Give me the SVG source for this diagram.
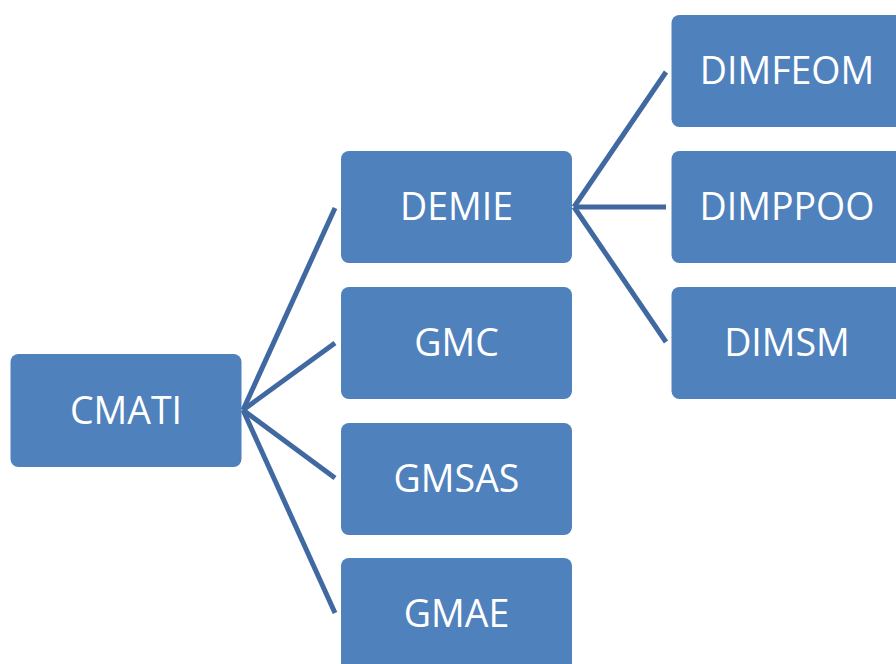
<svg xmlns="http://www.w3.org/2000/svg" width="896" height="664" viewBox="0 0 896 664">
<style>
.n{fill:#4F81BD;}
.t{fill:#FFFFFF;font-family:"Open Sans","Liberation Sans",sans-serif;font-size:37.5px;text-anchor:middle;}
.c line{stroke:#4169A1;stroke-width:5;stroke-linecap:butt;}
</style>
<rect width="896" height="664" fill="#FFFFFF"/>
<g class="c" id="connectors">
<line x1="243" y1="410" x2="335" y2="208"/>
<line x1="243" y1="410" x2="335" y2="343"/>
<line x1="243" y1="410" x2="335" y2="478"/>
<line x1="243" y1="410" x2="335" y2="613"/>
<line x1="574" y1="207" x2="666" y2="72"/>
<line x1="574" y1="207" x2="666" y2="207"/>
<line x1="574" y1="207" x2="666" y2="342"/>
</g>
<g id="CMATI"><rect class="n" x="10.5" y="354" width="231" height="113" rx="8"/><text class="t" x="126" y="424">CMATI</text></g>
<g id="DEMIE"><rect class="n" x="341" y="151" width="231" height="112" rx="8"/><text class="t" x="456.5" y="220">DEMIE</text></g>
<g id="GMC"><rect class="n" x="341" y="287" width="231" height="112" rx="8"/><text class="t" x="456.5" y="356">GMC</text></g>
<g id="GMSAS"><rect class="n" x="341" y="423" width="231" height="112" rx="8"/><text class="t" x="456.5" y="492">GMSAS</text></g>
<g id="GMAE"><rect class="n" x="341" y="558" width="231" height="120" rx="8"/><text class="t" x="456.5" y="627">GMAE</text></g>
<g id="DIMFEOM"><rect class="n" x="671.5" y="15" width="240" height="112" rx="8"/><text class="t" x="787" y="84">DIMFEOM</text></g>
<g id="DIMPPOO"><rect class="n" x="671.5" y="151" width="240" height="112" rx="8"/><text class="t" x="787" y="220">DIMPPOO</text></g>
<g id="DIMSM"><rect class="n" x="671.5" y="287" width="240" height="112" rx="8"/><text class="t" x="787" y="356">DIMSM</text></g>
</svg>
